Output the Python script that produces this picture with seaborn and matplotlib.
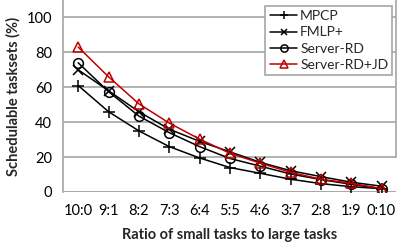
import pandas as pd
import matplotlib
matplotlib.use("Agg")
import matplotlib.pyplot as plt
import seaborn as sns

# ratio of small tasks to large tasks
ratios = ["10:0", "9:1", "8:2", "7:3", "6:4", "5:5", "4:6", "3:7", "2:8", "1:9", "0:10"]

mpcp = [61, 46, 35, 26, 19.5, 14, 10.7, 7.3, 4.8, 3.0, 1.9]
fmlp = [70, 58, 46, 36, 29, 23, 17, 12.2, 8.8, 5.6, 3.3]
server_rd = [74, 57.5, 43.5, 34, 26, 19.2, 14.8, 10.3, 7.1, 4.4, 1.9]
server_rd_jd = [83, 66, 50.5, 39.5, 30.3, 22.2, 16.5, 11.3, 7.3, 5.0, 1.9]

series = {
    "MPCP": mpcp,
    "FMLP+": fmlp,
    "Server-RD": server_rd,
    "Server-RD+JD": server_rd_jd,
}

styles = {
    "MPCP": dict(color="black", marker="+", markersize=8),
    "FMLP+": dict(color="black", marker="x", markersize=6.5),
    "Server-RD": dict(color="black", marker="o", markersize=7),
    "Server-RD+JD": dict(color="#C00000", marker="^", markersize=7.5),
}

sns.set_style("white")
plt.rcParams["font.family"] = ["Lato", "DejaVu Sans"]

fig = plt.figure(figsize=(3.99, 2.43), dpi=100)
ax = fig.add_axes([0.158, 0.21, 0.834, 0.79])

grid_color = "#A6A6A6"
ax.set_axisbelow(True)
ax.yaxis.grid(True, color=grid_color, linewidth=1.2)

for name, vals in series.items():
    df = pd.DataFrame({"ratio": ratios, "value": vals})
    st = styles[name]
    sns.lineplot(data=df, x="ratio", y="value", ax=ax, label=name,
                 color=st["color"], marker=st["marker"], markersize=st["markersize"],
                 markerfacecolor="none", markeredgecolor=st["color"],
                 markeredgewidth=1.1, linewidth=1.1, sort=False)

ax.set_xlim(-0.5, 10.47)
ax.set_ylim(0, 110)
ax.set_yticks(range(0, 101, 20))

ax.spines["top"].set_visible(False)
ax.spines["bottom"].set_visible(False)
ax.spines["left"].set_color(grid_color)
ax.spines["left"].set_linewidth(1.2)
ax.spines["right"].set_color(grid_color)
ax.spines["right"].set_linewidth(1.2)
ax.spines["right"].set_bounds(20, 110)

ax.tick_params(axis="both", which="both", direction="out", color=grid_color,
               width=1.2, labelsize=10.5, labelcolor="black")
ax.tick_params(axis="x", length=5, pad=4)
ax.tick_params(axis="y", length=5, pad=3)
ax.axhline(0, color=grid_color, linewidth=1.2, zorder=1)

ax.set_xlabel("Ratio of small tasks to large tasks", fontsize=10.5,
              fontweight="bold", labelpad=7)
ax.set_ylabel("Schedulable tasksets (%)", fontsize=10.5,
              fontweight="bold", labelpad=4)

leg = ax.legend(loc="upper right", bbox_to_anchor=(0.99, 0.97), fontsize=10,
                frameon=True, fancybox=False, handlelength=2.0, handletextpad=0.2,
                labelspacing=0.32, borderpad=0.3, borderaxespad=0.0, markerscale=0.75)
leg.get_frame().set_edgecolor(grid_color)
leg.get_frame().set_linewidth(1.2)
leg.get_frame().set_alpha(1)

fig.savefig("out.png", dpi=100)
